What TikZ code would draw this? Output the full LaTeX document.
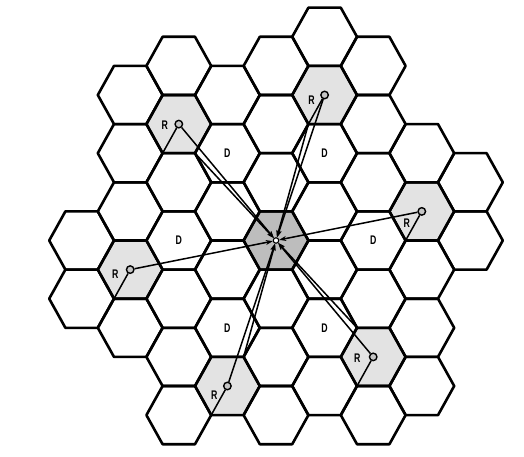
\documentclass[tikz,border=0pt]{standalone}
\usepackage{fontspec}
\setsansfont{Liberation Sans}
\usetikzlibrary{arrows.meta}
\definecolor{relaygray}{gray}{0.89}
\definecolor{hubgray}{gray}{0.74}
\tikzset{
  cell/.style={draw=black,line width=2.6pt,line join=round},
  link/.style={line width=1.5pt},
  sig/.style={link,-{Stealth[length=7pt,width=5pt]}},
  relay/.style={circle,draw=black,fill=gray!45,line width=1.4pt,inner sep=0pt,minimum size=7.5pt},
  hub/.style={circle,draw=black,fill=white,line width=1.1pt,inner sep=0pt,minimum size=5.5pt},
  lbl/.style={font=\sffamily\bfseries\fontsize{12.5}{12.5}\selectfont,inner sep=0pt}
}
\begin{document}
\begin{tikzpicture}[x=1pt,y=-1pt]
        \useasboundingbox (0,0) rectangle (524,457);

        % cell centres of the shaded cells
        \coordinate (hubc) at (276,240.5);
        \foreach \nm/\q/\r in {UL/-2/-1,UR/1/-3,Rt/3/-2,Lt/-3/2,LL/-1/3,LR/2/1}
          \coordinate (c\nm) at ({276+48.6*\q},{240.5+58.2*(\r+\q/2)});

        \fill[hubgray] (hubc) +(32.4,0) -- +(16.2,29.1) -- +(-16.2,29.1) -- +(-32.4,0) -- +(-16.2,-29.1) -- +(16.2,-29.1) -- cycle;
        \foreach \nm in {UL,UR,Rt,Lt,LL,LR}
          \fill[relaygray] (c\nm) +(32.4,0) -- +(16.2,29.1) -- +(-16.2,29.1) -- +(-32.4,0) -- +(-16.2,-29.1) -- +(16.2,-29.1) -- cycle;

        % the cell grid, column by column
        \foreach \q/\rlo/\rhi in {-4/2/3,-3/-1/3,-2/-2/4,-1/-2/3,0/-3/3,1/-4/2,2/-4/2,3/-3/1,4/-3/-2}
          \foreach \r in {\rlo,...,\rhi}
            \draw[cell] ({276+48.6*\q},{240.5+58.2*(\r+\q/2)}) +(32.4,0) -- +(16.2,29.1) -- +(-16.2,29.1) -- +(-32.4,0) -- +(-16.2,-29.1) -- +(16.2,-29.1) -- cycle;

        \node[hub] (hub) at (hubc) {};
        \foreach \nm in {UL,UR,Rt,Lt,LL,LR}{
          \node[relay] (r\nm) at (c\nm) {};
          \coordinate (k\nm) at ([shift={(-16.2,29.1)}]c\nm);
          \draw[link] (r\nm) -- (k\nm);
          \draw[sig] (r\nm) -- (hub);
        }

        % corner links
        \coordinate (nUL) at ([shift={(16.2,29.1)}]cUL);
        \coordinate (nUR) at ([shift={(-16.2,29.1)}]cUR);
        \coordinate (nLL) at ([shift={(16.2,-29.1)}]cLL);
        \coordinate (nLR) at ([shift={(-16.2,-29.1)}]cLR);
        \foreach \nm in {UL,UR,LL,LR}
          \draw[sig] (n\nm) -- (hub);

        \node[lbl] (tUL) at ([shift={(-14,1)}]cUL) {\scalebox{0.7}[1]{R}};
        \node[lbl] (tUR) at ([shift={(-13,5)}]cUR) {\scalebox{0.7}[1]{R}};
        \node[lbl] (tRt) at ([shift={(-15,12)}]cRt) {\scalebox{0.7}[1]{R}};
        \node[lbl] (tLt) at ([shift={(-15,5)}]cLt) {\scalebox{0.7}[1]{R}};
        \node[lbl] (tLL) at ([shift={(-13,9)}]cLL) {\scalebox{0.7}[1]{R}};
        \node[lbl] (tLR) at ([shift={(-16,1)}]cLR) {\scalebox{0.7}[1]{R}};

        \foreach \nm/\q/\r in {a/-1/-1,b/1/-2,c/-2/1,d/2/-1,e/-1/2,f/1/1}
          \node[lbl] (d\nm) at ({276+48.6*\q},{240.5+58.2*(\r+\q/2)}) {\scalebox{0.7}[1]{D}};

\end{tikzpicture}
\end{document}
